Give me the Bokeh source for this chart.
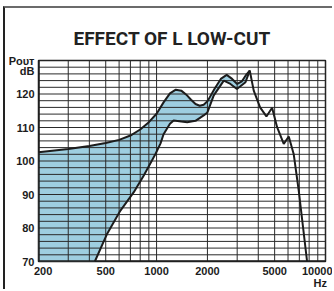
from bokeh.plotting import figure
from bokeh.models import Range1d, FixedTicker
from bokeh.embed import file_html
from bokeh.resources import INLINE

# ---- data ----
upper_freq = [200, 300, 400, 500, 600, 700, 800, 900, 1000, 1100, 1200, 1300, 1400,
              1500, 1600, 1700, 1800, 1900, 2000, 2200, 2400, 2600, 2800, 3000, 3200,
              3400, 3560, 3760, 4100, 4470, 4830, 5170, 5660, 6060, 6480, 6940, 7780]
upper_db = [102.6, 103.6, 104.5, 105.4, 106.3, 107.6, 109.4, 111.6, 114.1, 117.5, 120.2,
            121.3, 121.0, 119.8, 118.3, 117.0, 116.5, 116.8, 117.8, 121.5, 124.5, 125.7,
            124.5, 123.0, 123.8, 125.8, 127.0, 121.0, 116.0, 113.3, 115.9, 110.1, 105.1,
            107.3, 102.1, 91.2, 70.0]

lowcut_freq = [431, 510, 611, 733, 840, 985, 1054, 1100, 1200, 1262, 1400, 1518, 1700,
               1900, 2000, 2180, 2500, 2700, 2990, 3360, 3560]
lowcut_db = [70.0, 78.3, 85.2, 90.7, 95.7, 102.1, 105.2, 108.0, 111.1, 112.1, 111.8, 111.6,
             112.0, 113.6, 114.5, 119.6, 124.0, 123.2, 121.5, 123.5, 127.0]

x_grid = [200, 300, 400, 500, 600, 700, 800, 900, 1000, 2000, 3000, 4000, 5000,
          6000, 7000, 8000, 9000, 10000]
y_grid = list(range(70, 131, 2))
x_ticks = [200, 500, 1000, 2000, 5000, 10000]
x_tick_labels = ["\u00a0\u00a0\u00a0200", "500", "1000", "2000", "5000",
                 "10000\n\u00a0\u00a0Hz"]
y_ticks = [70, 80, 90, 100, 110, 120, 127, 130]
y_tick_labels = ["70", "80", "90", "100", "110", "120", "dB", "P\u1d0f\u1d1c\u1d1b"]
title_text = "EFFECT OF L LOW-CUT"

X0, X1 = 200, 10000
Y0, Y1 = 70, 130

FONT = "Liberation Sans"
INK = "#1c1c1c"

p = figure(width=329, height=283, x_axis_type="log",
           x_range=Range1d(X0, X1), y_range=Range1d(Y0, Y1),
           output_backend="svg", toolbar_location=None,
           min_border_left=33, min_border_right=9, min_border_top=52, min_border_bottom=30)
p.styles = {"margin-left": "3px", "margin-top": "6px",
            "border-top": "2px solid #6b6b6b", "border-left": "2px solid #222222"}
p.xgrid.visible = False
p.ygrid.visible = False
p.outline_line_color = INK
p.outline_line_width = 1.5

p.title.text = title_text
p.title.align = "left"
p.title.offset = 35
p.title.standoff = 21
p.title.text_font = "Roboto"
p.title.text_font_size = "19px"
p.title.text_font_style = "bold"
p.title.text_color = "#222222"

for ax, ticks, labels in ((p.xaxis[0], x_ticks, x_tick_labels), (p.yaxis[0], y_ticks, y_tick_labels)):
    ax.ticker = FixedTicker(ticks=ticks)
    ax.major_label_overrides = {t: l for t, l in zip(ticks, labels)}
    ax.major_tick_in = 0
    ax.major_tick_out = 0
    ax.minor_tick_in = 0
    ax.minor_tick_out = 0
    ax.axis_line_color = None
    ax.major_label_text_font = FONT
    ax.major_label_text_font_size = "11px"
    ax.major_label_text_font_style = "bold"
    ax.major_label_text_color = INK
    ax.major_label_text_line_height = 1.0
p.xaxis.major_label_standoff = 3
p.yaxis.major_label_standoff = 4

# filled band between the two responses (down to the floor left of the low-cut curve)
n_up = upper_freq.index(lowcut_freq[-1]) + 1
patch_x = upper_freq[:n_up] + lowcut_freq[::-1] + [upper_freq[0]]
patch_y = upper_db[:n_up] + lowcut_db[::-1] + [Y0]
p.patch(patch_x, patch_y, fill_color="#9ecee0", line_color=None)

# grid on top of the fill
p.segment(x0=x_grid, y0=[Y0] * len(x_grid), x1=x_grid, y1=[Y1] * len(x_grid),
          line_color="#2a2a2a", line_width=1)
p.segment(x0=[X0] * len(y_grid), y0=y_grid, x1=[X1] * len(y_grid), y1=y_grid,
          line_color="#2a2a2a", line_width=1)
p.segment(x0=[X0, X0], y0=[Y0, Y0], x1=[X0, X1], y1=[Y1, Y0], line_color=INK, line_width=2.5)

p.line(upper_freq, upper_db, line_color=INK, line_width=2)
p.line(lowcut_freq, lowcut_db, line_color=INK, line_width=2)

open("out.html", "w").write(file_html(p, INLINE))
